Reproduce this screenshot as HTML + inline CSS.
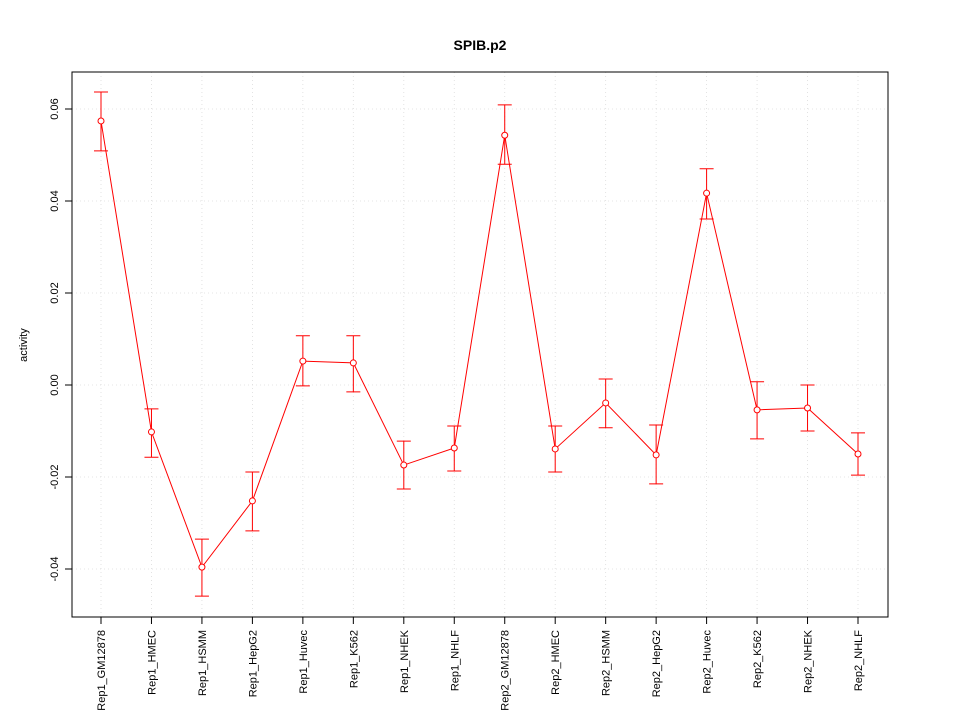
<!DOCTYPE html>
<html><head><meta charset="utf-8"><style>
body{margin:0;background:#fff;}
svg{display:block;font-family:"Liberation Sans",sans-serif;}
</style></head><body>
<svg id="chart" width="960" height="720">
<text x="480" y="50" text-anchor="middle" font-size="14" font-weight="bold">SPIB.p2</text>
<text transform="translate(27,345) rotate(-90)" text-anchor="middle" font-size="11">activity</text>
<g id="grid"></g><g id="axes"></g><g id="marks"></g>
<rect x="72" y="72" width="816" height="545" fill="none" stroke="#000"/>
</svg>
<script>
const categories=["Rep1_GM12878","Rep1_HMEC","Rep1_HSMM","Rep1_HepG2","Rep1_Huvec","Rep1_K562","Rep1_NHEK","Rep1_NHLF","Rep2_GM12878","Rep2_HMEC","Rep2_HSMM","Rep2_HepG2","Rep2_Huvec","Rep2_K562","Rep2_NHEK","Rep2_NHLF"];
const values=[0.0574,-0.0102,-0.0396,-0.0252,0.0052,0.0048,-0.0174,-0.0137,0.0543,-0.0139,-0.0039,-0.0152,0.0417,-0.0054,-0.0050,-0.0150];
const upper=[0.0637,-0.0052,-0.0335,-0.0189,0.0107,0.0107,-0.0122,-0.0089,0.0609,-0.0089,0.0013,-0.0087,0.0470,0.0007,0.0000,-0.0104];
const lower=[0.0509,-0.0157,-0.0459,-0.0317,-0.0002,-0.0015,-0.0226,-0.0187,0.0480,-0.0189,-0.0093,-0.0215,0.0361,-0.0117,-0.0100,-0.0196];
const yTicks=[-0.04,-0.02,0,0.02,0.04,0.06];
const yTickLabels=["-0.04","-0.02","0.00","0.02","0.04","0.06"];
const NS="http://www.w3.org/2000/svg";
const xS=i=>101+i*(757/15);
const yS=v=>385-v*4600;
function mk(tag,attrs,parent,text){const e=document.createElementNS(NS,tag);for(const k in attrs)e.setAttribute(k,attrs[k]);if(text!==undefined)e.textContent=text;document.getElementById(parent).appendChild(e);return e;}
categories.forEach((c,i)=>{
 const g=mk('line',{x1:xS(i),x2:xS(i),y1:72,y2:617,stroke:'#dcdcdc','stroke-width':0.8,'stroke-dasharray':'1,3'},'grid');
 
 
 const t=mk('line',{x1:xS(i),x2:xS(i),y1:617,y2:624,stroke:'#000'},'axes');
 
 
 const l=mk('text',{transform:`translate(${xS(i)+4},630) rotate(-90)`,'text-anchor':'end','font-size':'11'},'axes',c);
 
 
});
yTicks.forEach((v,i)=>{
 const g=mk('line',{x1:72,x2:888,y1:yS(v),y2:yS(v),stroke:'#dcdcdc','stroke-width':0.8,'stroke-dasharray':'1,3'},'grid');
 
 
 const t=mk('line',{x1:65,x2:72,y1:yS(v),y2:yS(v),stroke:'#000'},'axes');
 
 
 const l=mk('text',{transform:`translate(58,${yS(v)}) rotate(-90)`,'text-anchor':'middle','font-size':'11'},'axes',yTickLabels[i]);
 
 
});
const line=mk('polyline',{points:values.map((v,i)=>xS(i)+','+yS(v)).join(' '),fill:'none',stroke:'#ff0000'},'marks');


values.forEach((v,i)=>{
 const x=xS(i);
 const e=mk('path',{d:`M${x},${yS(upper[i])}V${yS(lower[i])}M${x-7},${yS(upper[i])}H${x+7}M${x-7},${yS(lower[i])}H${x+7}`,stroke:'#ff0000',fill:'none'},'marks');
 
 
 const p=mk('circle',{cx:x,cy:yS(v),r:3,fill:'#fff',stroke:'#ff0000'},'marks');
 
 
});
</script>
</body></html>
